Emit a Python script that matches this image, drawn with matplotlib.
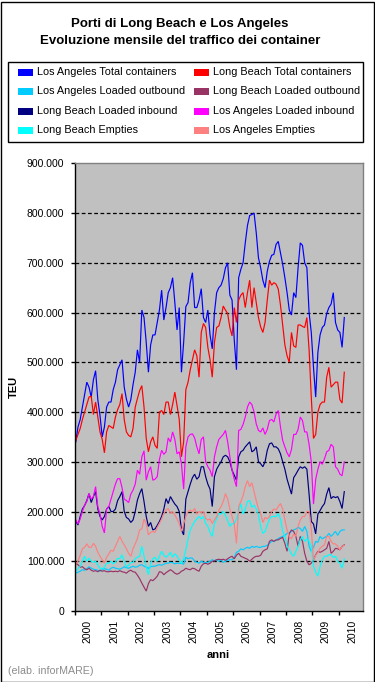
import numpy as np
import matplotlib
matplotlib.use("Agg")
import matplotlib.pyplot as plt
from matplotlib.patches import Rectangle
from matplotlib.ticker import FuncFormatter, FixedLocator

plt.rcParams['font.family'] = ['Liberation Sans', 'DejaVu Sans']

# ---------------- data (thousand TEU, monthly Jan 2000 - Mar 2010) ----------------
la_total = [
    340, 370, 385, 410, 435, 460, 450, 430, 465, 483, 425, 393,
    350, 370, 410, 420, 420, 445, 460, 485, 495, 505, 450, 426,
    410, 425, 455, 480, 525, 500, 605, 590, 540, 480, 535, 555,
    555, 580, 605, 645, 585, 610, 640, 650, 670, 620, 565, 610,
    480, 540, 612, 620, 660, 680, 610, 610, 625, 648, 590, 580,
    605, 555, 527, 600, 640, 650, 655, 668, 690, 700, 635, 625,
    545, 485, 670, 687, 700, 740, 775, 795, 797, 800, 760, 710,
    690, 665, 650, 683, 703, 715, 717, 737, 743, 720, 697, 670,
    640, 605, 595, 640, 630, 690, 740, 735, 700, 690, 600, 560,
    490, 430, 520, 555, 570, 575, 598, 610, 617, 640, 580, 565,
    560, 530, 590]
lb_total = [
    343, 355, 367, 385, 400, 415, 430, 432, 395, 420, 390, 360,
    345, 318, 360, 373, 370, 367, 390, 405, 415, 437, 385, 360,
    353, 350, 367, 410, 427, 443, 453, 410, 347, 320, 340, 350,
    333, 327, 400, 403, 395, 420, 420, 395, 415, 440, 413, 385,
    310, 340, 445, 460, 485, 505, 525, 513, 470, 560, 578, 570,
    530, 505, 470, 540, 570, 573, 590, 613, 605, 598, 570, 553,
    610, 580, 625, 635, 640, 610, 640, 665, 610, 650, 620, 590,
    571, 560, 580, 625, 665, 655, 660, 657, 647, 615, 575, 535,
    513, 500, 560, 533, 530, 575, 575, 572, 570, 590, 525, 430,
    347, 355, 400, 415, 420, 420, 470, 490, 450, 455, 460, 460,
    425, 418, 480]
la_out = [
    76, 78, 80, 83, 82, 85, 89, 86, 84, 83, 82, 80,
    83, 85, 84, 82, 86, 88, 86, 85, 84, 86, 89, 87,
    86, 88, 90, 88, 89, 92, 93, 90, 88, 86, 89, 90,
    90, 92, 93, 92, 94, 96, 96, 98, 97, 95, 96, 96,
    96, 94, 108, 105, 107, 106, 100, 98, 96, 100, 98, 97,
    98, 100, 103, 101, 103, 100, 102, 98, 100, 102, 103, 103,
    108, 118, 120, 125, 123, 126, 128, 126, 130, 128, 130, 128,
    128, 130, 130, 132, 136, 140, 140, 142, 146, 148, 150, 152,
    156, 156, 160, 163, 165, 168, 166, 160, 170, 160, 130, 120,
    128, 140, 138, 150, 145, 148, 150, 156, 150, 155, 160, 152,
    160, 163, 163]
lb_out = [
    96, 93, 88, 89, 85, 83, 86, 82, 80, 81, 79, 82,
    80, 81, 79, 79, 80, 79, 80, 79, 81, 79, 78, 76,
    80, 82, 79, 78, 72, 65, 56, 48, 40, 55, 63, 61,
    65, 70, 79, 78, 73, 77, 80, 83, 80, 76, 74, 76,
    80, 82, 86, 84, 83, 86, 85, 82, 80, 90, 95, 96,
    94, 96, 100, 101, 103, 104, 103, 104, 102, 105, 108, 110,
    105, 112, 116, 110, 108, 106, 104, 100, 104, 108, 110, 110,
    112, 120, 123, 125, 140, 143, 140, 143, 143, 146, 148, 136,
    120, 156, 163, 160, 150, 130, 150, 140, 116, 100, 93, 96,
    103, 113, 120, 118, 120, 123, 126, 140, 116, 120, 126, 125,
    123, 130, 133]
lb_in = [
    180, 173, 190, 205, 212, 222, 236, 218, 230, 240, 205, 190,
    183, 190, 205, 210, 200, 200, 205, 222, 230, 240, 200, 188,
    185, 178, 183, 200, 223, 236, 246, 220, 190, 170, 178, 163,
    165, 172, 180, 190, 205, 226, 216, 230, 222, 215, 210, 200,
    163, 153, 225, 240, 255, 268, 275, 265, 270, 290, 290, 270,
    255, 245, 210, 270, 285, 293, 300, 310, 313, 310, 300, 283,
    273, 263, 310, 320, 323, 330, 335, 340, 320, 323, 330, 300,
    296, 290, 300, 323, 336, 338, 330, 330, 326, 316, 300, 285,
    265, 250, 235, 268, 275, 283, 290, 287, 290, 285, 235, 180,
    175, 155, 195, 202, 210, 216, 235, 248, 226, 230, 228, 230,
    220, 206, 240]
la_in = [
    183, 175, 185, 200, 213, 220, 236, 225, 230, 250, 210, 195,
    170, 157, 205, 210, 225, 240, 255, 266, 266, 248, 225, 222,
    218, 235, 243, 255, 283, 275, 310, 322, 263, 280, 290, 263,
    265, 270, 305, 323, 315, 320, 348, 340, 360, 345, 316, 320,
    296, 245, 330, 350, 355, 356, 348, 330, 316, 345, 350, 300,
    290, 283, 270, 310, 330, 345, 350, 355, 363, 340, 310, 283,
    265, 250, 363, 365, 375, 390, 410, 420, 415, 400, 376, 363,
    360, 368, 355, 365, 383, 385, 380, 396, 403, 370, 343, 330,
    318, 310, 325, 355, 355, 365, 390, 383, 360, 360, 335, 300,
    215, 265, 285, 300, 295, 306, 320, 323, 335, 330, 290, 285,
    275, 272, 300]
lb_empty = [
    80, 85, 90, 100, 110, 100, 106, 100, 98, 100, 92, 86,
    85, 88, 96, 96, 100, 95, 98, 106, 105, 113, 100, 89,
    92, 97, 98, 105, 108, 110, 130, 110, 89, 73, 95, 105,
    108, 100, 110, 120, 112, 108, 112, 118, 108, 115, 110, 103,
    96, 105, 123, 145, 163, 172, 180, 185, 190, 185, 190, 176,
    170, 158, 150, 176, 185, 196, 195, 200, 192, 182, 170, 176,
    175, 185, 200, 216, 195, 205, 220, 222, 208, 213, 205, 195,
    170, 156, 160, 173, 185, 190, 190, 190, 196, 185, 160, 150,
    130, 123, 115, 110, 120, 130, 143, 150, 140, 145, 140, 130,
    90, 78, 70, 90, 103, 110, 110, 113, 113, 108, 110, 100,
    96, 86, 105]
la_empty = [
    95, 100, 112, 125, 128, 135, 128, 128, 136, 130, 118, 110,
    103, 96, 108, 115, 122, 120, 130, 140, 150, 140, 133, 125,
    116, 110, 125, 135, 146, 163, 165, 185, 175, 153, 158, 160,
    158, 168, 176, 185, 196, 203, 206, 196, 200, 193, 185, 176,
    160, 175, 190, 200, 203, 200, 206, 195, 200, 198, 200, 186,
    183, 185, 176, 183, 190, 203, 210, 220, 236, 225, 205, 190,
    175, 136, 210, 220, 232, 250, 262, 250, 258, 240, 222, 205,
    196, 178, 188, 185, 190, 200, 205, 203, 210, 216, 205, 183,
    163, 150, 145, 155, 150, 170, 183, 190, 190, 200, 200, 165,
    103, 112, 118, 126, 130, 133, 150, 150, 140, 135, 135, 130,
    123, 130, 132]

series_names = ["Los Angeles Total containers", "Long Beach Total containers",
                "Los Angeles Loaded outbound", "Long Beach Loaded outbound",
                "Long Beach Loaded inbound", "Los Angeles Loaded inbound",
                "Long Beach Empties", "Los Angeles Empties"]
series_values = [la_total, lb_total, la_out, lb_out, lb_in, la_in, lb_empty, la_empty]
series_colors = ["#0000FF", "#FF0000", "#00CCFF", "#993366",
                 "#000080", "#FF00FF", "#00FFFF", "#FF8080"]

year_labels = [str(y) for y in range(2000, 2011)]
y_ticks = [0, 100000, 200000, 300000, 400000, 500000, 600000, 700000, 800000, 900000]

# ---------------- figure ----------------
W, H = 375, 682
fig = plt.figure(figsize=(W / 100, H / 100), dpi=100)
fx = lambda px: px / W
fy = lambda py: 1 - py / H

# outer border
fig.patches.append(Rectangle((0.5 / W, 0.5 / H), (W - 2) / W, (H - 2) / H,
                             transform=fig.transFigure, fill=False,
                             edgecolor="black", lw=1.0))

fig.text(fx(180), fy(24), "Porti di Long Beach e Los Angeles", ha="center", va="center",
         fontsize=9.5, fontweight="bold")
fig.text(fx(180), fy(41), "Evoluzione mensile del traffico dei container", ha="center",
         va="center", fontsize=9.5, fontweight="bold")

# legend box
fig.patches.append(Rectangle((fx(8), fy(142)), fx(363) - fx(8), fy(62) - fy(142),
                             transform=fig.transFigure, fill=False,
                             edgecolor="black", lw=1.0))
row_y = [72, 91, 111, 130]
col_sw = [18.3, 194.3]
col_tx = [36.7, 212.7]
for i, (name, col) in enumerate(zip(series_names, series_colors)):
    r, c = divmod(i, 2)
    fig.patches.append(Rectangle((fx(col_sw[c]), fy(row_y[r] + 3.5)), 15 / W, 7 / H,
                                 transform=fig.transFigure, facecolor=col,
                                 edgecolor="none"))
    fig.text(fx(col_tx[c]), fy(row_y[r]), name, ha="left", va="center", fontsize=7.8)

# axes
L, R, T, B = 74.7, 363, 163.3, 611
ax = fig.add_axes([fx(L), fy(B), fx(R) - fx(L), fy(T) - fy(B)])
ax.set_facecolor("#C0C0C0")

n = len(la_total)
t = 2000 + (np.arange(n) + 0.5) / 12.0
for vals, col in zip(series_values, series_colors):
    ax.plot(t, np.array(vals) * 1000, color=col, lw=0.85, solid_joinstyle="miter")

ax.set_xlim(2000, 2000 + 131 / 12)
ax.set_ylim(0, 900000)
ax.yaxis.set_major_locator(FixedLocator(y_ticks))
ax.yaxis.set_major_formatter(FuncFormatter(lambda v, p: f"{int(v):,}".replace(",", ".")))
for yv in y_ticks[1:-1]:
    ax.axhline(yv, color="black", lw=0.9, ls=(0, (3, 2)), zorder=0.5)

ax.xaxis.set_major_locator(FixedLocator(list(range(2000, 2011))))
ax.xaxis.set_major_formatter(FuncFormatter(lambda v, p: ""))
ax.xaxis.set_minor_locator(FixedLocator([y + 0.5 for y in range(2000, 2011)]))
ax.set_xticklabels(year_labels, minor=True, rotation=90, fontsize=7.5)
ax.tick_params(axis="x", which="minor", length=0, pad=6.5)
ax.tick_params(axis="x", which="major", length=3, width=1, direction="out")
ax.tick_params(axis="y", which="major", length=3, width=1, direction="out",
               labelsize=7.5, pad=4.5)

for s in ["left", "bottom"]:
    ax.spines[s].set_color("black")
    ax.spines[s].set_linewidth(1.0)
for s in ["top", "right"]:
    ax.spines[s].set_color("#808080")
    ax.spines[s].set_linewidth(1.0)

fig.text(fx(14), fy(387), "TEU", rotation=90, ha="center", va="center",
         fontsize=8, fontweight="bold")
fig.text(fx(218), fy(655), "anni", ha="center", va="center", fontsize=8, fontweight="bold")
fig.text(fx(8), fy(671), "(elab. inforMARE)", ha="left", va="center", fontsize=7.7,
         color="#8C8C8C")

fig.savefig("out.png", dpi=100)
